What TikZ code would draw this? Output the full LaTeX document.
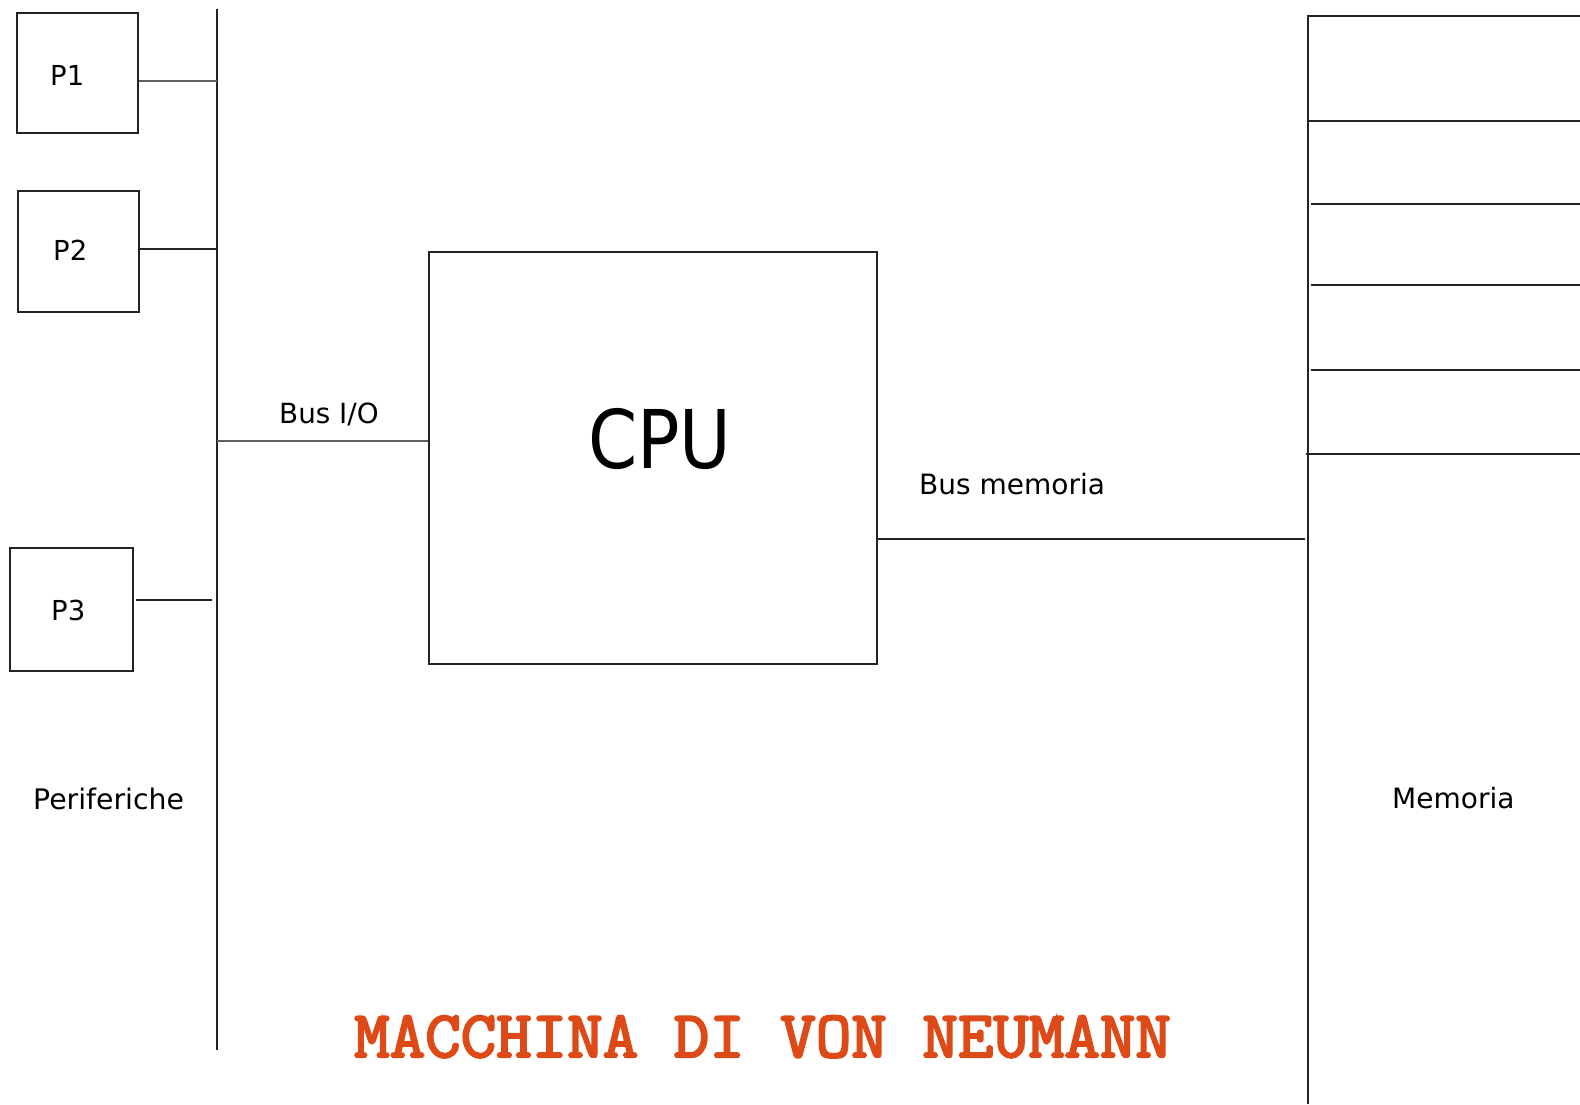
\documentclass[tikz,border=0pt]{standalone}
\usepackage{fontspec}
\usepackage{graphicx}
\setmainfont{DejaVu Sans}
\newfontfamily\titlefont{Latin Modern Mono}[FakeBold=3.2]
\definecolor{titlered}{RGB}{221,74,23}
\definecolor{wire}{RGB}{35,35,35}
\definecolor{softwire}{RGB}{95,95,95}
\tikzset{
  box/.style={draw=wire, line width=2pt, inner sep=0pt, fill=none},
  lbl/.style={anchor=base west, inner sep=0pt, font=\fontsize{28}{30}\selectfont, text=black},
  wireline/.style={draw=wire, line width=2pt},
  softline/.style={draw=softwire, line width=2.2pt},
}
\begin{document}
\begin{tikzpicture}[x=1pt, y=-1pt]
\useasboundingbox (0,0) rectangle (1580,1104);

% peripherals
\node[box, minimum width=121pt, minimum height=120pt] (p1) at (77.5,73) {};
\node[box, minimum width=121pt, minimum height=121pt] (p2) at (78.5,251.5) {};
\node[box, minimum width=123pt, minimum height=123pt] (p3) at (71.5,609.5) {};
\node[lbl, font=\fontsize{27.5}{29}\selectfont] (p1txt) at (50,85) {P1};
\node[lbl, font=\fontsize{27.5}{29}\selectfont] (p2txt) at (53,260) {P2};
\node[lbl, font=\fontsize{27.5}{29}\selectfont] (p3txt) at (51,620) {P3};

% I/O bus
\coordinate (busTop) at (217,9);
\coordinate (busBot) at (217,1050);
\draw[wireline] (busTop) -- (busBot);
\coordinate (t1) at (217,81);
\coordinate (t2) at (217,249);
\coordinate (t3) at (212,600);
\draw[softline] (t1 -| p1.east) -- (t1);
\draw[wireline] (t2 -| p2.east) -- (t2);
\draw[wireline] ([xshift=2pt]t3 -| p3.east) -- (t3);

% CPU
\node[box, minimum width=448pt, minimum height=412pt] (cpu) at (653,458) {};
\node[anchor=base west, inner sep=0pt] (cputxt) at (588,468)
  {\scalebox{0.87}[1]{\fontsize{81}{85}\selectfont CPU}};
\coordinate (tio) at (217,441);
\draw[softline] (tio) -- (tio -| cpu.west);
\node[lbl, font=\fontsize{27.8}{29}\selectfont] (busio) at (279,423) {Bus I/O};

% memory
\coordinate (memTop) at (1308,16);
\coordinate (memBot) at (1308,1104);
\draw[wireline] (memBot) -- (memTop) -- (1582,16);
\foreach \yy/\xx in {121/1308, 204/1311, 285/1311, 370/1311, 454/1306}
  \draw[wireline] (\xx,\yy) -- (1582,\yy);
\coordinate (tmem) at (1305,539);
\draw[wireline] (tmem -| cpu.east) -- (tmem);
\node[lbl] (busmem) at (919,494) {Bus memoria};
\node[lbl] (memtxt) at (1392,808) {Memoria};
\node[lbl, font=\fontsize{28.3}{30}\selectfont] (pertxt) at (33,809) {Periferiche};

% title
\node[anchor=base west, inner sep=0pt, text=titlered] (title) at (354,1057)
  {\scalebox{1.02}[0.98]{\titlefont\fontsize{67.6}{70}\selectfont MACCHINA DI VON NEUMANN}};
\end{tikzpicture}
\end{document}
